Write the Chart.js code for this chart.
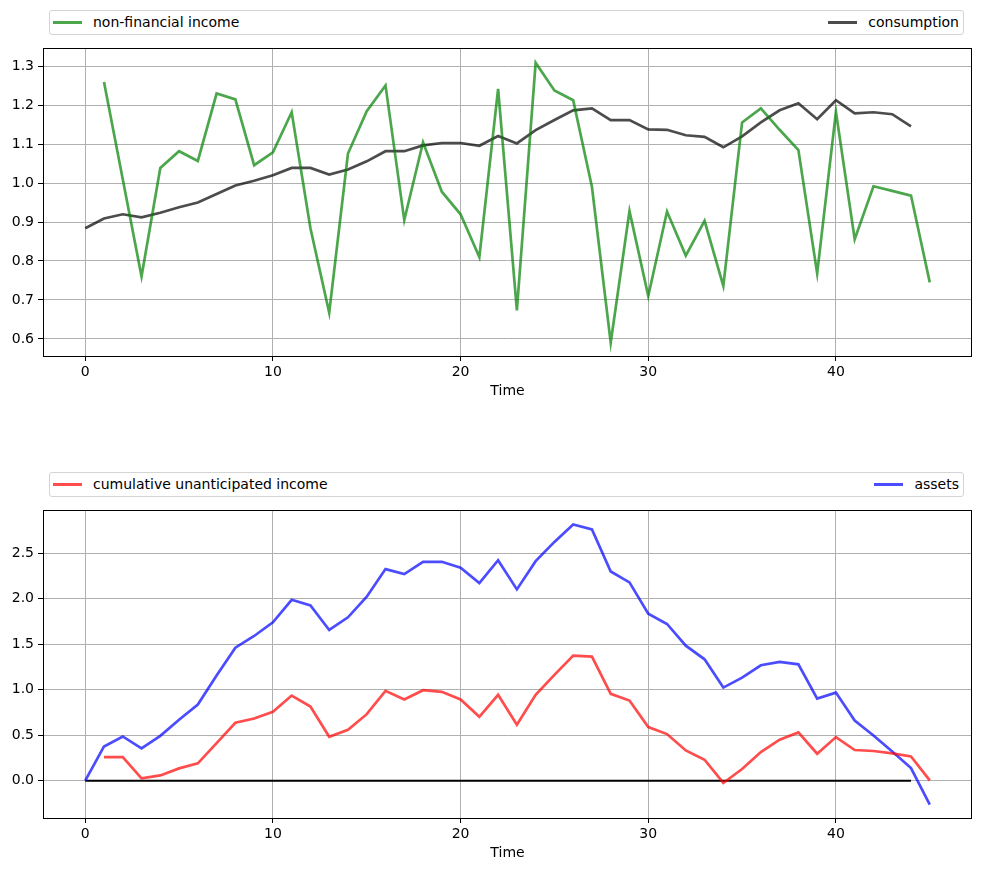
<!DOCTYPE html>
<html>
<head>
<meta charset="utf-8">
<script src="https://cdn.jsdelivr.net/npm/chart.js@4"></script>
<style>
  body { margin: 0; background: #fff; font-family: "DejaVu Sans", sans-serif; }
  #pagina { position: relative; width: 981px; height: 872px; overflow: hidden; }
  .legenda { position: absolute; left: 49px; width: 913px; height: 23px; border: 1px solid #d4d4d4; border-radius: 3px; font-size: 14px; color: #000; background: #fff; z-index: 2; }
  .item { position: absolute; top: 0; line-height: 23px; white-space: nowrap; }
  .traco { display: inline-block; width: 29px; border-top: 3px solid; vertical-align: middle; margin-right: 11px; position: relative; top: -1px; }
  canvas { position: absolute; left: 0; }
</style>
</head>
<body>
<div id="pagina">
  <div class="legenda" style="top:10px">
    <div class="item" style="left:3px"><span class="traco" style="border-color:rgba(0,128,0,0.7)"></span>non-financial income</div>
    <div class="item" style="right:4px"><span class="traco" style="border-color:rgba(0,0,0,0.7)"></span>consumption</div>
  </div>
  <canvas id="graficoRenda" width="981" height="374" style="top:36px"></canvas>

  <div class="legenda" style="top:472px">
    <div class="item" style="left:3px"><span class="traco" style="border-color:rgba(255,0,0,0.7)"></span>cumulative unanticipated income</div>
    <div class="item" style="right:4px"><span class="traco" style="border-color:rgba(0,0,255,0.7)"></span>assets</div>
  </div>
  <canvas id="graficoAtivos" width="981" height="374" style="top:498px"></canvas>
</div>

<script>
const tempo = [0, 1, 2, 3, 4, 5, 6, 7, 8, 9, 10, 11, 12, 13, 14, 15, 16, 17, 18, 19, 20, 21, 22,
    23, 24, 25, 26, 27, 28, 29, 30, 31, 32, 33, 34, 35, 36, 37, 38, 39, 40, 41, 42, 43, 44, 45];

// renda nao financeira (comeca em t=1)
const rendaNaoFinanceira = [null, 1.26, 1.01, 0.76, 1.039, 1.082, 1.057, 1.23, 1.215, 1.046, 1.079,
    1.182, 0.884, 0.667, 1.076, 1.185, 1.251, 0.905, 1.105, 0.978, 0.92,
    0.81, 1.242, 0.673, 1.309, 1.238, 1.213, 0.99, 0.59, 0.928, 0.71,
    0.927, 0.814, 0.903, 0.736, 1.156, 1.192, 1.137, 1.085, 0.768, 1.183,
    0.856, 0.992, 0.98, 0.968, 0.745];

// consumo (t=0..44)
const consumo = [0.884, 0.909, 0.92, 0.912, 0.924, 0.938, 0.95, 0.972, 0.994, 1.006, 1.02,
    1.039, 1.039, 1.022, 1.035, 1.056, 1.082, 1.082, 1.097, 1.103, 1.103,
    1.096, 1.121, 1.102, 1.136, 1.162, 1.187, 1.192, 1.162, 1.162, 1.138,
    1.137, 1.123, 1.119, 1.092, 1.12, 1.156, 1.187, 1.205, 1.164, 1.213,
    1.179, 1.182, 1.177, 1.146];

// renda nao antecipada acumulada (comeca em t=1)
const rendaNaoAntecipada = [null, 0.26, 0.26, 0.025, 0.058, 0.135, 0.19, 0.413, 0.636, 0.683, 0.757,
    0.935, 0.815, 0.482, 0.559, 0.731, 0.987, 0.892, 0.994, 0.976, 0.892,
    0.702, 0.943, 0.614, 0.943, 1.162, 1.374, 1.363, 0.954, 0.881, 0.589,
    0.512, 0.332, 0.23, -0.025, 0.128, 0.315, 0.45, 0.53, 0.296, 0.479,
    0.337, 0.326, 0.3, 0.266, 0.003];

// ativos (t=0..45)
const ativos = [0, 0.376, 0.486, 0.354, 0.493, 0.669, 0.837, 1.155, 1.462, 1.59, 1.74,
    1.988, 1.926, 1.656, 1.795, 2.021, 2.325, 2.27, 2.405, 2.405, 2.339,
    2.171, 2.423, 2.102, 2.412, 2.624, 2.815, 2.76, 2.299, 2.179, 1.835,
    1.722, 1.484, 1.334, 1.023, 1.133, 1.268, 1.305, 1.279, 0.902, 0.968,
    0.661, 0.497, 0.321, 0.139, -0.263];

const ticksX = [0, 10, 20, 30, 40];
const ticksRenda = [0.6, 0.7, 0.8, 0.9, 1.0, 1.1, 1.2, 1.3];
const ticksAtivos = [0, 0.5, 1.0, 1.5, 2.0, 2.5];

function pontos(valores) {
    return valores.map((v, i) => ({ x: tempo[i], y: v }));
}

const fonte = { family: 'DejaVu Sans', size: 14 };

// moldura preta em volta da area do grafico
const moldura = {
    id: 'moldura',
    afterDraw(chart) {
        const { ctx, chartArea: a } = chart;
        ctx.save();
        ctx.strokeStyle = '#000';
        ctx.lineWidth = 1;
        ctx.strokeRect(Math.round(a.left) + 0.5, Math.round(a.top) + 0.5,
            Math.round(a.right - a.left) - 1, Math.round(a.bottom - a.top));
        ctx.restore();
    }
};

function criarGrafico(id, datasets, yMin, yMax, ticksY) {
    const canvas = document.getElementById(id);
    return new Chart(canvas, {
        type: 'line',
        data: { datasets: datasets },
        options: {
            responsive: false,
            animation: false,
            events: [],
            layout: { padding: { top: 8, right: 9, left: 0, bottom: 0 } },
            elements: { point: { radius: 0 }, line: { tension: 0, borderWidth: 2.7 } },
            plugins: { legend: { display: false }, tooltip: { enabled: false } },
            scales: {
                x: {
                    type: 'linear',
                    min: -2.25,
                    max: 47.25,
                    afterBuildTicks: (s) => { s.ticks = ticksX.map(v => ({ value: v })); },
                    afterFit: (s) => { s.height = 54; },
                    grid: { color: '#b0b0b0', lineWidth: 1, drawTicks: true, tickLength: 5, tickColor: '#000' },
                    border: { display: false },
                    ticks: { color: '#000', font: fonte, padding: 3, maxRotation: 0 },
                    title: { display: true, text: 'Time', color: '#000', font: fonte, padding: { top: 2, bottom: 10 } }
                },
                y: {
                    min: yMin,
                    max: yMax,
                    afterBuildTicks: (s) => { s.ticks = ticksY.map(v => ({ value: v })); },
                    afterFit: (s) => { s.width = 43; },
                    grid: { color: '#b0b0b0', lineWidth: 1, drawTicks: true, tickLength: 5, tickColor: '#000' },
                    border: { display: false },
                    ticks: { color: '#000', font: fonte, padding: 4, callback: (v) => v.toFixed(1) }
                }
            }
        },
        plugins: [moldura]
    });
}

criarGrafico('graficoRenda', [
    { data: pontos(rendaNaoFinanceira), borderColor: 'rgba(0,128,0,0.7)', spanGaps: false },
    { data: pontos(consumo), borderColor: 'rgba(0,0,0,0.7)' }
], 0.556, 1.346, ticksRenda);

criarGrafico('graficoAtivos', [
    { data: pontos(rendaNaoAntecipada), borderColor: 'rgba(255,0,0,0.7)' },
    { data: pontos(ativos), borderColor: 'rgba(0,0,255,0.7)' },
    { data: [{ x: 0, y: 0 }, { x: 44, y: 0 }], borderColor: '#000', borderWidth: 2 }
], -0.41, 2.97, ticksAtivos);
</script>
</body>
</html>
